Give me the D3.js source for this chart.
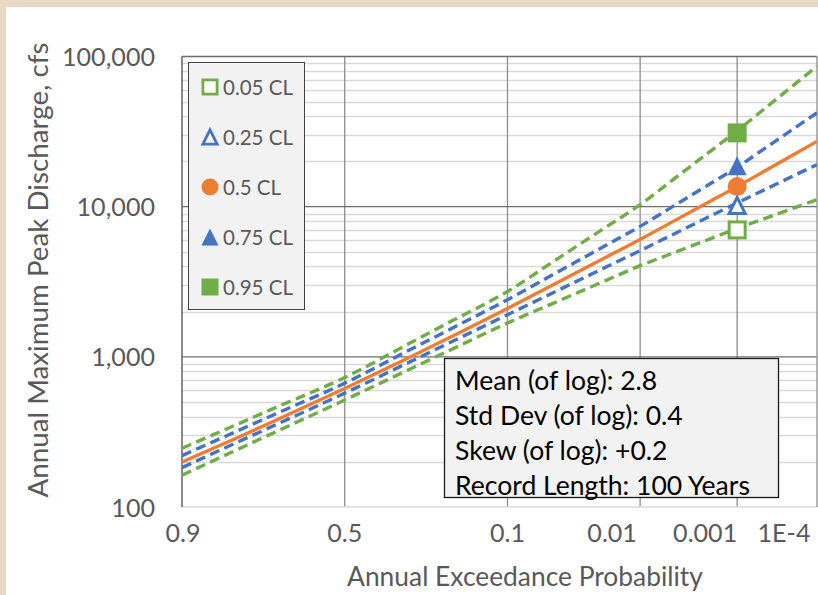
<!DOCTYPE html>
<html><head><meta charset="utf-8">
<script src="https://cdn.jsdelivr.net/npm/d3@7"></script>
<style>
body{margin:0;background:#fff;}
svg{display:block;font-family:Lato,"Open Sans",sans-serif;}
</style>
</head><body>
<svg id="c" width="818" height="595"></svg>
<script>
// ---------------- data ----------------
const aep   = [0.9,0.8,0.7,0.5,0.3,0.2,0.1,0.05,0.02,0.01,0.005,0.002,0.001,0.0005,0.0002,0.0001];
const cl05  = [163,242,322,516,837,1121,1679,2280,3219,4046,4877,6110,7161,8240,9820,11140];
const cl25  = [183,271,359,573,936,1260,1905,2683,3944,5093,6471,8650,10590,12770,16140,19050];
const cl50  = [199,290,384,615,1005,1365,2100,3030,4590,6050,7890,10860,13600,16960,22340,27200];
const cl75  = [220,322,424,668,1127,1545,2400,3548,5508,7390,9935,14220,18280,23870,33270,42170];
const cl95  = [246,357,467,728,1249,1731,2723,4323,7278,10300,14920,23360,31990,43850,64960,86100];
const seriesNames = ["0.05 CL","0.25 CL","0.5 CL","0.75 CL","0.95 CL"];
const markerAep = 0.001;
const markerValues = [7000,10200,13600,18700,31000];
const xTickValues = [0.9,0.5,0.1,0.01,0.001,0.0001];
const xTickLabels = ["0.9","0.5","0.1","0.01","0.001","1E-4"];
const yTickValues = [100,1000,10000,100000];
const statsLines = ["Mean (of log): 2.8","Std Dev (of log): 0.4","Skew (of log): +0.2","Record Length: 100 Years"];
const xTitle = "Annual Exceedance Probability";
const yTitle = "Annual Maximum Peak Discharge, cfs";

// ---------------- helpers ----------------
function invNorm(p){
  const a=[-3.969683028665376e+01,2.209460984245205e+02,-2.759285104469687e+02,1.383577518672690e+02,-3.066479806614716e+01,2.506628277459239e+00];
  const b=[-5.447609879822406e+01,1.615858368580409e+02,-1.556989798598866e+02,6.680131188771972e+01,-1.328068155288572e+01];
  const c=[-7.784894002430293e-03,-3.223964580411365e-01,-2.400758277161838e+00,-2.549732539343734e+00,4.374664141464968e+00,2.938163982698783e+00];
  const d=[7.784695709041462e-03,3.224671290700398e-01,2.445134137142996e+00,3.754408661907416e+00];
  const pl=0.02425, ph=1-pl; let q,r;
  if(p<pl){q=Math.sqrt(-2*Math.log(p));return (((((c[0]*q+c[1])*q+c[2])*q+c[3])*q+c[4])*q+c[5])/((((d[0]*q+d[1])*q+d[2])*q+d[3])*q+1);}
  if(p<=ph){q=p-0.5;r=q*q;return (((((a[0]*r+a[1])*r+a[2])*r+a[3])*r+a[4])*r+a[5])*q/(((((b[0]*r+b[1])*r+b[2])*r+b[3])*r+b[4])*r+1);}
  q=Math.sqrt(-2*Math.log(1-p));return -(((((c[0]*q+c[1])*q+c[2])*q+c[3])*q+c[4])*q+c[5])/((((d[0]*q+d[1])*q+d[2])*q+d[3])*q+1);
}
const zOf = p => invNorm(1-p);
function fit(sel,w){const l=sel.node().getComputedTextLength();const fs=parseFloat(sel.attr("font-size"));const n=fs*w/l;sel.attr("font-size",n);return n;}

// ---------------- layout ----------------
const L=182, R=817, T=56.5, B=507;
const svg=d3.select("#c");
const green="#70ad47", blue="#4472c4", orange="#ed7d31", txt="#595959";

svg.append("rect").attr("width",818).attr("height",595).attr("fill","#e9d9c4");
svg.append("rect").attr("x",6).attr("y",7).attr("width",830).attr("height",600).attr("fill","#fff");

const x=d3.scaleLinear().domain([zOf(0.9),zOf(0.0001)]).range([L,R]);
const y=d3.scaleLog().domain([100,100000]).range([B,T]);

// minor gridlines
const minor=[];
[100,1000,10000].forEach(d=>{for(let k=2;k<=9;k++)minor.push(d*k);});
svg.append("g").selectAll("line").data(minor).join("line")
  .attr("x1",L).attr("x2",R).attr("y1",d=>Math.round(y(d))+0.5).attr("y2",d=>Math.round(y(d))+0.5)
  .attr("stroke","#d9d9d9").attr("stroke-width",1.3);
// vertical gridlines
svg.append("g").selectAll("line").data(xTickValues.slice(1,5)).join("line")
  .attr("x1",d=>x(zOf(d))).attr("x2",d=>x(zOf(d))).attr("y1",T).attr("y2",B)
  .attr("stroke","#8c8c8c").attr("stroke-width",1.3);
// major horizontal
svg.append("g").selectAll("line").data([1000,10000]).join("line")
  .attr("x1",L).attr("x2",R).attr("y1",d=>y(d)).attr("y2",d=>y(d))
  .attr("stroke","#6e6e6e").attr("stroke-width",1.4);
svg.append("line").attr("x1",L).attr("x2",R).attr("y1",B).attr("y2",B).attr("stroke","#d9d9d9").attr("stroke-width",1.3);
// plot border (top, right) and left axis
svg.append("line").attr("x1",L).attr("x2",R).attr("y1",T).attr("y2",T).attr("stroke","#6e6e6e").attr("stroke-width",1.4);
svg.append("line").attr("x1",R).attr("x2",R).attr("y1",T).attr("y2",B).attr("stroke","#8c8c8c").attr("stroke-width",1.3);
svg.append("line").attr("x1",L).attr("x2",L).attr("y1",T).attr("y2",B).attr("stroke","#595959").attr("stroke-width",1.4);

// y axis labels
const yAxis=d3.axisLeft(y).tickValues(yTickValues).tickFormat(d3.format(",")).tickSize(0).tickPadding(27);
const gy=svg.append("g").attr("transform",`translate(${L},0)`).call(yAxis);
gy.select(".domain").remove();
gy.selectAll("text").attr("fill",txt).attr("font-family","Lato").attr("font-size",25).attr("dy","0.36em");
const big=gy.selectAll("text").filter(d=>d===100000);
const tickFs=fit(big,93);
gy.selectAll("text").attr("font-size",tickFs);

// x tick labels (label placement offsets relative to their gridline, as in the picture)
const xOff=[1,0,0,-28,-32,-33];
svg.append("g").selectAll("text").data(xTickValues).join("text")
  .attr("x",(d,i)=>x(zOf(d))+xOff[i]).attr("y",542)
  .attr("text-anchor","middle")
  .attr("fill",txt).attr("font-size",tickFs).text((d,i)=>xTickLabels[i]);

// titles
const xt=svg.append("text").attr("x",525).attr("y",586).attr("text-anchor","middle").attr("fill",txt).attr("font-size",24).text(xTitle);
fit(xt,356);
const yt=svg.append("text").attr("transform","translate(48,270) rotate(-90)").attr("text-anchor","middle").attr("fill",txt).attr("font-size",24).text(yTitle);
fit(yt,455);

// curves
svg.append("clipPath").attr("id","pc").append("rect").attr("x",L).attr("y",T).attr("width",R-L).attr("height",B-T);
const series=[
  {v:cl05,c:green,dash:"10,5.5"},
  {v:cl25,c:blue,dash:"10,5.5"},
  {v:cl75,c:blue,dash:"10,5.5"},
  {v:cl95,c:green,dash:"10,5.5"},
  {v:cl50,c:orange,dash:null}
];
const line=d3.line().x(d=>x(zOf(d[0]))).y(d=>y(d[1])).curve(d3.curveMonotoneX);
const gc=svg.append("g").attr("clip-path","url(#pc)");
series.forEach(s=>{
  gc.append("path").attr("d",line(aep.map((p,i)=>[p,s.v[i]])))
    .attr("fill","none").attr("stroke",s.c).attr("stroke-width",3.4)
    .attr("stroke-dasharray",s.dash);
});

// marker drawing
const mk=[
  {t:"sq",open:true,c:green},
  {t:"tri",open:true,c:blue},
  {t:"circ",open:false,c:orange},
  {t:"tri",open:false,c:blue},
  {t:"sq",open:false,c:green}
];
function marker(g,m,cx,cy,s,sw){
  let el;
  if(m.t==="sq"){
    const h=s/2-(m.open?sw/2:0);
    el=g.append("rect").attr("x",cx-h).attr("y",cy-h).attr("width",2*h).attr("height",2*h);
  }else if(m.t==="tri"){
    const h=s/2-(m.open?sw/2:0);
    el=g.append("path").attr("d",`M${cx},${cy-h}L${cx+h},${cy+h}L${cx-h},${cy+h}Z`).attr("stroke-linejoin","miter");
  }else{
    el=g.append("circle").attr("cx",cx).attr("cy",cy).attr("r",s/2);
  }
  if(m.open) el.attr("fill","#fff").attr("stroke",m.c).attr("stroke-width",sw);
  else el.attr("fill",m.c);
}
const gm=svg.append("g");
markerValues.forEach((v,i)=>marker(gm,mk[i],x(zOf(markerAep)),y(v),19,3));

// legend
const lg=svg.append("g");
lg.append("rect").attr("x",188.5).attr("y",62.5).attr("width",116).attr("height",247).attr("fill","#f2f2f2").attr("stroke","#404040").attr("stroke-width",1);
const legT=[];
seriesNames.forEach((n,i)=>{
  const cy=87+i*50;
  marker(lg,mk[i],210,cy,17,2.8);
  legT.push(lg.append("text").attr("x",223).attr("y",cy+7.5).attr("fill",txt).attr("font-size",20).text(n));
});
const lfs=fit(legT[0],70);
legT.forEach(t=>t.attr("font-size",lfs));

// stats box
const sb=svg.append("g");
sb.append("rect").attr("x",444.5).attr("y",358.5).attr("width",334).attr("height",139).attr("fill","#f2f2f2").attr("stroke","#1a1a1a").attr("stroke-width",1.3);
const st=sb.selectAll("text").data(statsLines).join("text")
  .attr("x",455).attr("y",(d,i)=>390+i*35).attr("fill","#000").attr("font-size",23).text(d=>d);
const sfs=fit(st.filter((d,i)=>i===3),295);
st.attr("font-size",sfs);
</script>
</body></html>
